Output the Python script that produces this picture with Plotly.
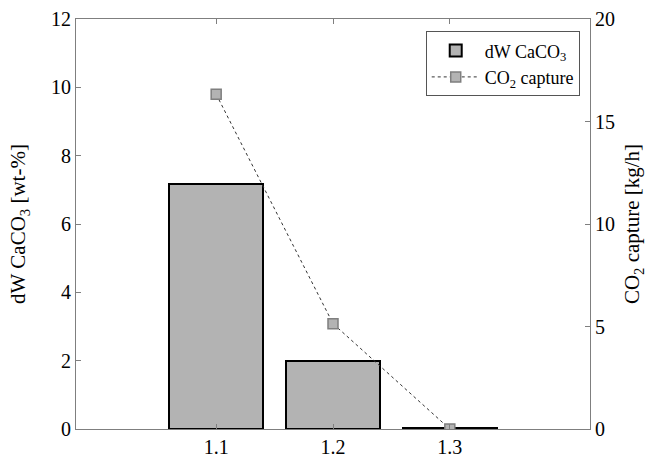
import plotly.graph_objects as go

categories = [1.1, 1.2, 1.3]
tick_labels = ["1.1", "1.2", "1.3"]
dw_caco3 = [7.17, 1.98, 0.02]
co2_capture = [16.33, 5.14, 0.0]

font_family = "Liberation Serif"
axis_color = "#7f7f7f"

fig = go.Figure()
fig.add_trace(go.Bar(
    x=categories, y=dw_caco3, width=0.08,
    name="dW CaCO<sub>3</sub>",
    marker=dict(color="#b3b3b3", line=dict(color="black", width=2)),
    yaxis="y",
))
fig.add_trace(go.Scatter(
    x=categories, y=co2_capture, mode="lines+markers",
    name="CO<sub>2</sub> capture",
    line=dict(color="#333333", width=1, dash="dot"),
    marker=dict(symbol="square", size=10, color="#b3b3b3",
                line=dict(color="#7f7f7f", width=1.5)),
    yaxis="y2",
))

fig.update_layout(
    width=655, height=457,
    margin=dict(l=76, r=65, t=19, b=28, autoexpand=False),
    paper_bgcolor="white", plot_bgcolor="white",
    font=dict(family=font_family, size=20, color="black"),
    showlegend=True,
    bargap=0,
    legend=dict(
        x=0.98, y=0.97, xanchor="right", yanchor="top",
        bgcolor="white", bordercolor="#555555", borderwidth=1,
        font=dict(size=18, family=font_family),
        tracegroupgap=0, itemwidth=48,
    ),
    xaxis=dict(
        range=[0.98, 1.42], tickvals=categories, ticktext=tick_labels,
        ticks="inside", ticklen=5, tickcolor=axis_color,
        showline=True, linecolor=axis_color, linewidth=1, mirror="ticks",
        showgrid=False, zeroline=False, automargin=False,
        tickfont=dict(size=20, family=font_family),
    ),
    yaxis=dict(
        range=[0, 12], tickvals=[0, 2, 4, 6, 8, 10, 12],
        ticks="inside", ticklen=5, tickcolor=axis_color,
        showline=True, linecolor=axis_color, linewidth=1,
        showgrid=False, zeroline=False, automargin=False,
        title=dict(text="dW CaCO<sub>3</sub> [wt-%]", font=dict(size=21, family=font_family), standoff=19),
        tickfont=dict(size=20, family=font_family),
    ),
    yaxis2=dict(
        range=[0, 20], tickvals=[0, 5, 10, 15, 20],
        overlaying="y", side="right",
        ticks="inside", ticklen=5, tickcolor=axis_color,
        showline=True, linecolor=axis_color, linewidth=1,
        showgrid=False, zeroline=False, automargin=False,
        title=dict(text="CO<sub>2</sub> capture [kg/h]", font=dict(size=21, family=font_family), standoff=10),
        tickfont=dict(size=20, family=font_family),
    ),
)

fig.write_html("out.html", config={"displayModeBar": False},
               post_script="document.body.style.margin='0';document.body.style.overflow='hidden';")
